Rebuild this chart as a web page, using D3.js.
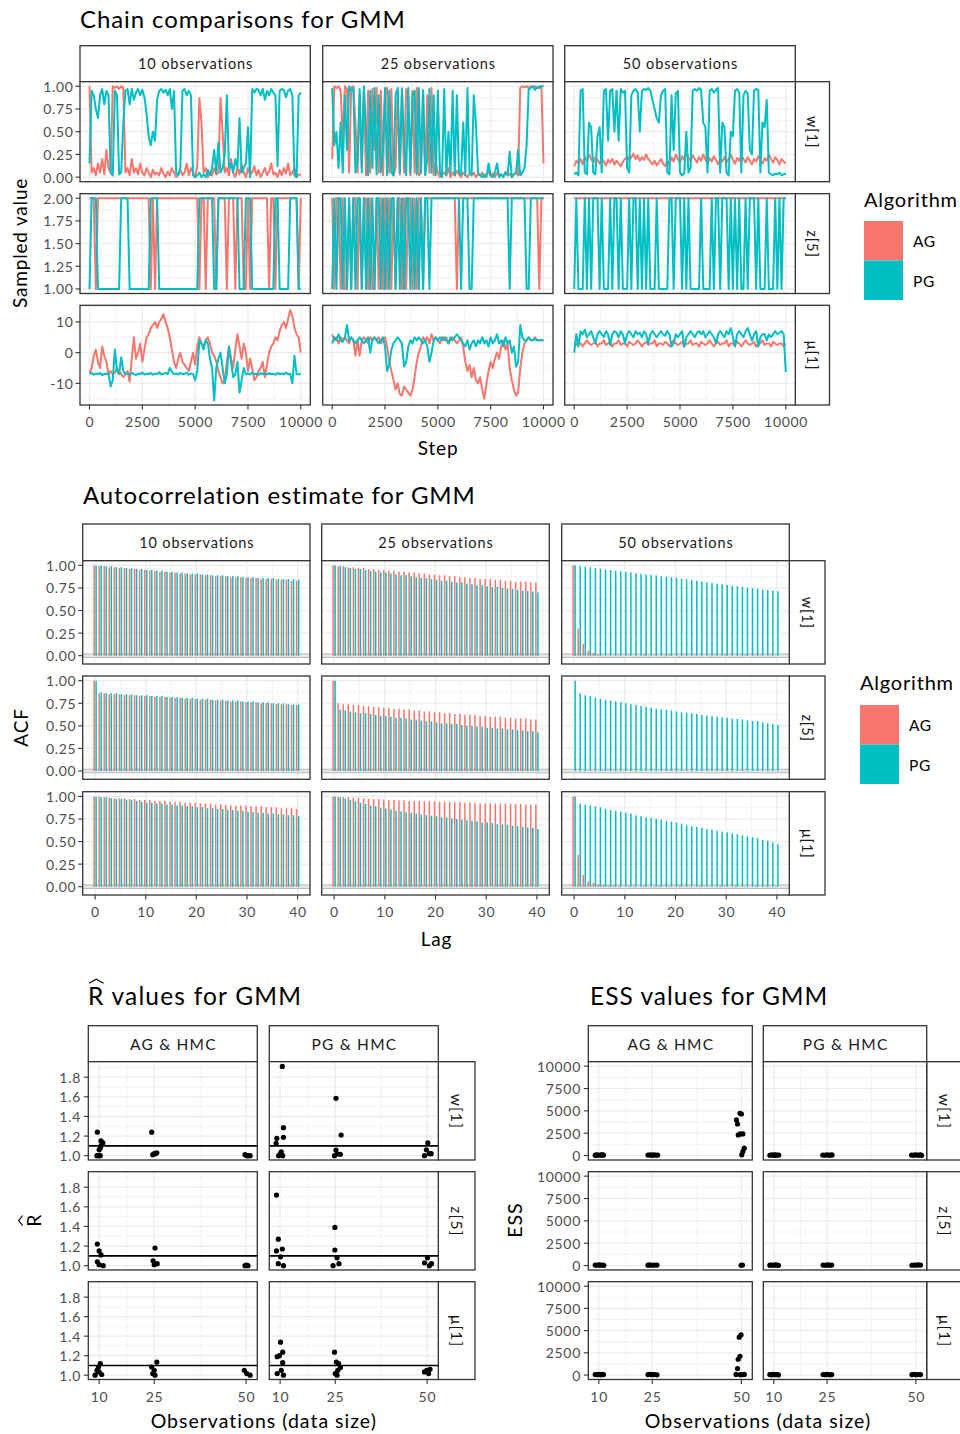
<!DOCTYPE html>
<html><head><meta charset="utf-8">
<script src="https://cdn.jsdelivr.net/npm/d3@7"></script>
<style>body{margin:0;background:#fff}svg{display:block}text{font-family:Lato,'Noto Sans',sans-serif}</style>
</head><body><svg id="c" width="960" height="1434"></svg>
<script>
// ---------------- DATA ----------------
const algos = ["AG", "PG"];
const algoColors = ["#F8766D", "#00BFC4"];
const obsLabels = ["10 observations", "25 observations", "50 observations"];
const paramLabels = ["w[1]", "z[5]", "μ[1]"];
const pairLabels = ["AG & HMC", "PG & HMC"];
const traceTotalSteps = 10000;
const traceXTicks = [0, 2500, 5000, 7500, 10000];
const lagTicks = [0, 10, 20, 30, 40];
const obsTicks = [10, 25, 50];

// trace samples, evenly spaced over 0..10000 steps
const trace_w1_10_AG = [1.0,0.05,0.1,0.02,0.15,0.05,0.2,0.03,0.3,0.1,0.05,1.0,0.98,1.0,0.97,1.0,0.98,0.05,0.1,0.02,0.2,0.05,0.1,0.03,0.15,0.05,0.02,0.1,0.05,0.0,0.08,0.03,0.05,0.02,0.1,0.04,0.0,0.06,0.02,0.1,0.05,0.0,0.03,0.08,0.02,0.05,0.15,0.02,0.1,0.05,0.0,0.12,0.87,0.6,0.05,0.1,0.0,0.05,0.02,0.1,0.03,0.05,0.87,0.5,0.05,0.1,0.02,0.2,0.05,0.0,0.1,0.03,0.15,0.05,0.0,0.1,0.03,0.05,0.12,0.02,0.08,0.0,0.05,0.1,0.02,0.06,0.15,0.03,0.05,0.0,0.08,0.02,0.1,0.04,0.15,0.02,0.05,0.1,0.0,0.03,0.02];
const trace_w1_10_PG = [0.15,0.95,0.9,0.75,0.65,0.9,0.97,0.8,0.95,0.9,0.05,0.02,0.95,0.9,0.03,0.05,0.6,0.95,0.97,0.8,0.97,0.85,0.93,0.97,0.9,0.96,0.88,0.7,0.45,0.35,0.5,0.4,0.85,0.95,0.97,0.93,0.96,0.9,0.97,0.75,0.95,0.05,0.02,0.1,0.95,0.97,0.9,0.95,0.9,0.02,0.0,0.02,0.05,0.0,0.03,0.0,0.08,0.02,0.1,0.3,0.05,0.38,0.05,0.1,0.25,0.9,0.1,0.15,0.05,0.2,0.1,0.65,0.05,0.1,0.15,0.55,0.0,0.97,0.93,0.97,0.96,0.9,0.97,0.85,0.95,0.9,0.97,0.93,0.9,0.12,0.95,0.97,0.96,0.88,0.95,0.97,0.9,0.02,0.0,0.9,0.93];
const trace_w1_25_AG = [0.2,1.0,0.98,1.0,0.95,0.4,1.0,0.97,0.05,0.99,1.0,0.6,0.05,0.9,0.1,0.98,0.02,0.95,0.05,0.97,0.3,0.98,0.05,0.95,0.02,0.9,0.98,0.05,0.97,0.02,0.1,0.95,0.03,0.98,0.05,0.97,0.9,0.02,0.95,0.05,0.98,0.02,0.05,0.96,0.03,0.9,0.05,0.98,0.02,0.15,0.05,0.0,0.03,0.05,0.02,0.1,0.0,0.05,0.02,0.07,0.03,0.0,0.05,0.02,0.0,0.04,0.02,0.05,0.0,0.03,0.02,0.05,0.0,0.03,0.06,0.01,0.04,0.0,0.05,0.02,0.03,0.0,0.06,0.02,0.04,0.0,0.03,0.05,0.02,0.98,1.0,0.99,1.0,0.98,1.0,0.99,1.0,0.98,1.0,1.0,0.15];
const trace_w1_25_PG = [0.98,0.35,0.5,0.1,0.6,0.05,0.9,0.3,1.0,0.95,0.98,0.05,0.2,0.97,0.05,1.0,0.5,0.02,0.95,0.1,0.98,0.03,0.9,0.05,0.3,0.98,0.02,0.95,0.05,0.02,0.9,0.98,0.05,0.97,0.4,0.02,0.98,0.05,0.9,0.95,0.03,0.98,0.05,0.95,0.02,0.2,0.97,0.05,0.9,0.02,0.95,0.05,0.0,0.97,0.02,0.5,0.05,0.95,0.02,0.9,0.05,0.03,0.6,0.02,0.98,0.05,0.02,0.9,0.6,0.05,0.02,0.0,0.03,0.0,0.15,0.02,0.0,0.05,0.15,0.0,0.03,0.0,0.05,0.02,0.28,0.0,0.03,0.05,0.3,0.02,0.05,0.1,0.35,0.97,0.98,1.0,0.96,0.99,0.98,1.0,1.0];
const trace_w1_50_AG = [0.12,0.18,0.15,0.2,0.14,0.22,0.18,0.25,0.2,0.16,0.22,0.19,0.15,0.21,0.17,0.13,0.19,0.16,0.2,0.14,0.18,0.15,0.12,0.17,0.2,0.23,0.19,0.22,0.26,0.2,0.24,0.18,0.22,0.19,0.25,0.2,0.17,0.14,0.18,0.13,0.16,0.2,0.15,0.12,0.18,0.14,0.22,0.17,0.25,0.2,0.16,0.23,0.19,0.27,0.21,0.18,0.24,0.2,0.16,0.22,0.18,0.25,0.2,0.15,0.21,0.17,0.23,0.19,0.14,0.2,0.17,0.22,0.16,0.2,0.25,0.19,0.15,0.21,0.18,0.24,0.2,0.16,0.22,0.18,0.14,0.2,0.17,0.23,0.19,0.15,0.21,0.18,0.25,0.2,0.16,0.22,0.19,0.14,0.2,0.17,0.15];
const trace_w1_50_PG = [0.03,0.05,0.02,0.95,0.97,0.05,0.03,0.6,0.55,0.05,0.03,0.45,0.55,0.05,0.95,0.97,0.4,0.95,0.97,0.5,0.95,0.4,0.97,0.93,0.95,0.1,0.05,0.9,0.95,0.97,0.93,0.5,0.95,0.97,0.96,0.98,0.95,0.85,0.75,0.65,0.6,0.9,0.95,0.97,0.05,0.03,0.9,0.3,0.92,0.95,0.05,0.02,0.04,0.5,0.05,0.1,0.95,0.97,0.95,0.98,0.96,0.6,0.55,0.05,0.95,0.97,0.93,0.96,0.98,0.05,0.6,0.55,0.05,0.02,0.5,0.45,0.95,0.97,0.93,0.05,0.9,0.95,0.92,0.3,0.25,0.95,0.97,0.96,0.05,0.6,0.55,0.85,0.05,0.03,0.02,0.04,0.03,0.05,0.02,0.03,0.04];

const trace_z5_10_AG = [2,2,2,1,2,2,2,2,2,2, 2,2,2,2,2,2,2,2,2,2, 2,2,2,2,2,2,2,2,2,1, 2,1,2,2,2,2,2,2,2,2, 2,2,2,2,2,2,2,2,2,2, 2,2,1,2,2,1,2,2,2,2, 1,2,2,2,2,1,2,2,2,1, 2,2,2,1,1,2,1,2,2,2, 2,2,2,2,2,1,2,2,1,2, 2,2,2,2,2,2,2,2,2,1,2];
const trace_z5_10_PG = [1,2,2,2,1,1,1,1,1,1, 1,1,1,1,1,2,2,2,2,1, 1,1,1,1,1,1,1,1,1,2, 2,2,2,1,1,1,1,1,1,1, 1,1,1,1,1,1,1,1,1,1, 1,1,2,2,2,2,2,2,2,1, 1,2,2,2,2,2,2,2,2,2, 2,1,1,1,2,2,2,1,1,1, 1,1,1,1,1,1,1,1,2,2, 1,1,1,1,1,2,2,2,2,1,1];
const trace_z5_25_AG = [2,1,2,2,1,2,1,1,2,1, 2,2,1,2,1,2,2,1,2,1, 1,2,1,2,1,2,1,2,1,2, 1,2,2,1,2,1,2,2,1,2, 1,2,2,1,2,2,2,2,2,2, 2,2,2,2,2,2,2,2,2,1, 2,2,2,2,2,2,2,2,2,2, 2,2,2,2,2,2,2,2,2,2, 2,2,2,2,2,2,2,2,2,2, 2,2,2,2,2,2,2,2,1,2,2];
const trace_z5_25_PG = [1,2,1,2,2,1,2,1,2,1, 2,1,2,2,1,2,1,2,1,2, 1,2,2,1,2,1,2,1,2,2, 1,2,1,2,1,2,2,1,2,1, 2,1,2,1,2,2,1,2,2,2, 2,2,2,2,2,2,2,2,2,2, 2,1,2,2,2,1,1,2,2,2, 2,2,2,2,2,2,2,2,2,2, 2,2,2,2,1,2,2,2,2,2, 2,2,1,1,2,2,2,2,2,2,2];
const trace_z5_50_AG = [2,2,2,2,2,2,2,2,2,2, 2,2,2,2,2,2,2,2,2,2, 2,2,2,2,2,2,2,2,2,2, 2,2,2,2,2,2,2,2,2,2, 2,2,2,2,2,2,2,2,2,2, 2,2,2,2,2,2,2,2,2,2, 2,2,2,2,2,2,2,2,2,2, 2,2,2,2,2,2,2,2,2,2, 2,2,2,2,2,2,2,2,2,2, 2,2,2,2,2,2,2,2,2,2,2];
const trace_z5_50_PG = [1,2,1,1,1,2,1,2,1,2, 2,2,1,2,1,1,1,2,1,2, 2,1,2,1,1,1,2,1,2,2, 1,2,1,2,1,2,1,1,1,2, 1,1,1,1,1,2,2,1,2,2, 2,1,2,1,2,1,1,1,1,1, 2,1,1,1,1,2,1,2,2,1, 2,2,2,1,2,1,2,1,2,1, 1,2,1,2,2,2,1,2,1,1, 1,2,1,1,1,2,1,2,1,2,2];

const trace_mu1_10_AG = [-6.5,-5,-1,1,-3,-5,2,-1,-3,-7,-6,-7,-6.5,-5,-6,-7,-8,-7,-6,-9.5,-2,5,-2,0,3,-3,1,5,6,8,9,10,8,10,11,12.5,10,8,5,1,-3,-5,-2,0,-3,-4,-5,-6,-3,0,-4,2,5,3,2,4,5,3,0,-1,-3,-6,-8,-10,-9,-3,2,-2,-5,1,6,2,-2,3,0,-6,-2,-5,-9,-8,-6,-5,-3,-8,-4,0,2,3,5,4,7,9,10,8,11,13.9,12,8,6,5,0];
const trace_mu1_10_PG = [-7,-6.5,-7.2,-6.8,-7,-6.6,-7.3,-6.9,-7,-6.7,-11,-9,1,-6,-7,-1.5,-6,-7,-6.8,-7.2,-6.6,-7,-7.3,-6.8,-7,-6.5,-7.1,-6.9,-7,-6.6,-7.2,-6.8,-7,-6.4,-7.1,-6.9,-6.6,-7,-5,-6.2,-7,-6.8,-7.1,-6.6,-7,-6.9,-6.5,-7.2,-6.8,-7,-9,-6,4,3,1,4,3,-2,-5,-15.6,-5,-2,0,-5,-10,-7,2,-3,-8,-7,-3,-13,-9,-5,-7,-6.8,-7.1,-6.5,-7,-6.9,-7.2,-6.6,-7,-6.8,-7.1,-6.7,-7,-6.9,-7.2,-6.6,-7,-6.8,-7.1,-6.5,-7,-6.9,-10,-1,-7,-7,-7];
const trace_mu1_25_AG = [6,4,5,3,5,4,5,4,3,5,4,-1,4,-1,4,5,4,3,5,4,5,4,5,3,4,5,2,-3,-6,-9,-12,-10,-13.5,-14,-11,-12,-13,-14,-12,-8,-3,0,2,5,4,5,3,6,4,5,4,3,5,4,5,3,4,5,4,3,4,5,2,-3,-6,-4,-8,-5,-9,-10,-8,-12,-15,-10,-6,-3,-5,-2,0,-2,2,4,1,3,-5,-9,-12,-14,-13,-5,0,3,4,5,4,4,5,4,4,4,4];
const trace_mu1_25_PG = [3,5,4,6,4,3.5,5,9,4,5,4,3,4,5,4,3,4,5,0,4,5,4,3,4,5,2,-6,-4,1,3,4,5,4,3,-4.5,-3,2,4,3,5,4,5,4,3,4,2,-3,0,4,5,4,5,4,5,4,3,5,4,5,6,5,4,3,2,4,1,3,4,2,4,3,5,3,4,2,5,3,4,6,3,4,2,5,3,4,0,2,-4.5,-3,9,5,4,4,5,4,4,4.5,4,4,4,4];
const trace_mu1_50_AG = [3,2.5,3.5,3,2,3,4,3,2.5,3,3.5,2,3,3,4,2.5,3,3.5,2,3,3,4,2.5,3,3,2,3.5,3,2.5,3,4,3,2,3,3.5,2.5,3,3,4,2,3,3,2.5,3.5,3,2,3,4,3,2.5,3,3.5,2,3,3,4,2.5,3,3,2,3.5,3,2.5,3,4,3,2,3,3.5,2.5,3,3,4,2,3,3,2.5,3.5,3,2,3,4,3,2.5,3,3.5,2,3,3,4,2.5,3,3,2,3.5,3,2.5,3,3,2,3];
const trace_mu1_50_PG = [0,6,2,7,6,7.5,5,6,7,5,3,6,7,6,5,7,6,2.5,6,7,6.5,5,7,6,3,6,7,6,5,7,6,6.5,5,7,6,3,6,7,6,5,6,7,6,5.5,7,6,2,3,6,5,6,7,2,5,6,7,6,5,6.5,7,6,7,5,6,7,6,5,3,6,7,6,5,7,6,8,5,2,6,7,6,5,7,8,6,4,6,7,2,5,6,6,4,6,5,6,7,6,6.5,7,6,-6.3];

// autocorrelation, lags 0..40
const acf_w1_10_AG = [1.00,0.99,0.99,0.98,0.98,0.97,0.97,0.96,0.96,0.95,0.95,0.94,0.94,0.93,0.93,0.92,0.92,0.91,0.91,0.90,0.90,0.90,0.89,0.89,0.88,0.88,0.88,0.87,0.87,0.87,0.86,0.86,0.86,0.85,0.85,0.85,0.84,0.84,0.84,0.83,0.83];
const acf_w1_10_PG = [1.00,1.00,0.99,0.99,0.98,0.98,0.97,0.97,0.96,0.96,0.95,0.95,0.94,0.94,0.93,0.93,0.92,0.92,0.91,0.91,0.91,0.90,0.90,0.89,0.89,0.89,0.88,0.88,0.88,0.87,0.87,0.87,0.86,0.86,0.86,0.86,0.85,0.85,0.85,0.85,0.84];
const acf_w1_25_AG = [1.00,0.99,0.99,0.98,0.98,0.97,0.97,0.96,0.96,0.95,0.95,0.94,0.94,0.93,0.93,0.92,0.92,0.91,0.91,0.90,0.90,0.89,0.89,0.88,0.88,0.87,0.87,0.86,0.86,0.85,0.85,0.85,0.84,0.84,0.83,0.83,0.82,0.82,0.82,0.81,0.81];
const acf_w1_25_PG = [1.00,0.99,0.98,0.97,0.96,0.96,0.95,0.94,0.93,0.92,0.92,0.91,0.90,0.89,0.89,0.88,0.87,0.86,0.86,0.85,0.84,0.83,0.83,0.82,0.81,0.81,0.80,0.79,0.78,0.78,0.77,0.76,0.76,0.75,0.74,0.74,0.73,0.72,0.72,0.71,0.70];
const acf_w1_50_AG = [1.00,0.30,0.13,0.055,0.03,0.01,0.005,0.0,-0.005,0.005,0.0,0.005,-0.005,0.0,0.01,-0.01,0.005,0.0,-0.008,0.01,0.0,-0.01,0.005,0.0,0.005,-0.005,0.0,-0.01,0.005,0.0,0.01,-0.005,0.0,0.005,0.01,0.0,-0.005,0.005,0.0,-0.01,0.005];
const acf_w1_50_PG = [1.00,0.99,0.985,0.98,0.97,0.965,0.955,0.95,0.94,0.935,0.927,0.92,0.913,0.907,0.9,0.893,0.887,0.88,0.874,0.868,0.862,0.855,0.846,0.838,0.83,0.822,0.814,0.806,0.798,0.79,0.782,0.775,0.768,0.762,0.755,0.748,0.741,0.734,0.727,0.72,0.714];
const acf_z5_10_AG = [1.00,0.86,0.86,0.85,0.85,0.85,0.84,0.84,0.84,0.83,0.83,0.83,0.82,0.82,0.82,0.81,0.81,0.81,0.80,0.80,0.80,0.79,0.79,0.79,0.78,0.78,0.78,0.77,0.77,0.77,0.76,0.76,0.76,0.75,0.75,0.75,0.74,0.74,0.74,0.73,0.73];
const acf_z5_10_PG = [1.00,0.87,0.86,0.86,0.86,0.85,0.85,0.85,0.84,0.84,0.84,0.83,0.83,0.83,0.82,0.82,0.82,0.81,0.81,0.81,0.80,0.80,0.80,0.79,0.79,0.79,0.78,0.78,0.78,0.77,0.77,0.77,0.76,0.76,0.76,0.75,0.75,0.75,0.74,0.74,0.74];
const acf_z5_25_AG = [1.00,0.75,0.74,0.74,0.73,0.73,0.72,0.72,0.71,0.71,0.70,0.70,0.69,0.69,0.68,0.68,0.67,0.67,0.66,0.66,0.65,0.65,0.64,0.64,0.63,0.63,0.62,0.62,0.62,0.61,0.61,0.60,0.60,0.60,0.59,0.59,0.58,0.58,0.58,0.57,0.57];
const acf_z5_25_PG = [1.00,0.68,0.67,0.66,0.65,0.64,0.64,0.63,0.62,0.61,0.61,0.60,0.59,0.59,0.58,0.57,0.57,0.56,0.55,0.55,0.54,0.53,0.53,0.52,0.52,0.51,0.50,0.50,0.49,0.49,0.48,0.48,0.47,0.47,0.46,0.46,0.45,0.45,0.44,0.44,0.43];
const acf_z5_50_AG = [];
const acf_z5_50_PG = [1.00,0.86,0.84,0.83,0.81,0.80,0.79,0.78,0.77,0.76,0.75,0.74,0.73,0.72,0.71,0.70,0.69,0.685,0.68,0.67,0.66,0.65,0.645,0.64,0.63,0.62,0.615,0.61,0.60,0.595,0.59,0.58,0.575,0.57,0.56,0.555,0.55,0.54,0.53,0.52,0.51];
const acf_mu1_10_AG = [1.00,1.00,0.99,0.99,0.98,0.98,0.98,0.97,0.97,0.96,0.96,0.96,0.95,0.95,0.95,0.94,0.94,0.94,0.93,0.93,0.93,0.92,0.92,0.92,0.91,0.91,0.91,0.90,0.90,0.90,0.90,0.89,0.89,0.89,0.88,0.88,0.88,0.87,0.87,0.87,0.86];
const acf_mu1_10_PG = [1.00,0.99,0.99,0.98,0.97,0.97,0.96,0.96,0.95,0.94,0.93,0.93,0.92,0.92,0.91,0.91,0.90,0.90,0.89,0.89,0.88,0.88,0.87,0.87,0.86,0.86,0.85,0.85,0.84,0.84,0.83,0.83,0.82,0.82,0.81,0.81,0.80,0.80,0.79,0.79,0.78];
const acf_mu1_25_AG = [1.00,0.995,0.99,0.99,0.985,0.98,0.98,0.975,0.97,0.97,0.965,0.96,0.96,0.955,0.955,0.95,0.95,0.95,0.945,0.945,0.945,0.94,0.94,0.94,0.935,0.935,0.93,0.93,0.93,0.925,0.925,0.925,0.92,0.92,0.92,0.915,0.915,0.915,0.91,0.91,0.91];
const acf_mu1_25_PG = [1.00,0.99,0.975,0.96,0.945,0.93,0.915,0.90,0.89,0.875,0.865,0.855,0.845,0.835,0.825,0.82,0.81,0.80,0.795,0.785,0.78,0.77,0.765,0.755,0.75,0.745,0.735,0.73,0.725,0.715,0.71,0.705,0.695,0.69,0.685,0.675,0.67,0.665,0.655,0.65,0.64];
const acf_mu1_50_AG = [1.00,0.35,0.13,0.06,0.04,0.03,0.02,0.01,0.02,0.01,0.0,0.01,0.005,0.0,0.01,0.0,0.005,0.01,0.0,0.005,0.0,0.01,0.0,0.005,0.0,0.01,0.005,0.0,0.0,0.01,0.005,0.0,0.01,0.0,0.005,0.0,0.01,0.0,0.005,0.0,0.01];
const acf_mu1_50_PG = [1.00,0.92,0.91,0.90,0.89,0.88,0.86,0.85,0.84,0.83,0.82,0.81,0.79,0.78,0.77,0.76,0.75,0.74,0.73,0.72,0.71,0.70,0.68,0.67,0.66,0.65,0.64,0.63,0.62,0.61,0.60,0.59,0.58,0.57,0.56,0.55,0.54,0.52,0.51,0.49,0.47];
const acfBand = 0.0196;

// R-hat: [observations (jittered), R-hat]
const rhat_w1_AG = [[9.5,1.24],[10.5,1.15],[11.0,1.13],[10.5,1.10],[10.3,1.075],[10.0,1.06],[9.4,1.0],[10.3,1.0],[9.8,1.0],[24.3,1.24],[25.0,1.02],[25.7,1.03],[24.6,1.01],[25.3,1.02],[49.7,1.01],[50.6,1.0],[51.1,1.0],[50.2,1.0]];
const rhat_w1_PG = [[10.6,1.91],[10.9,1.286],[10.9,1.187],[9.1,1.177],[8.9,1.126],[10.3,1.04],[10.1,1.02],[10.7,1.0],[9.6,1.0],[25.2,1.585],[26.6,1.21],[25.2,1.058],[25.5,1.017],[26.4,1.014],[24.8,1.0],[50.2,1.13],[49.8,1.06],[50.6,1.02],[49.3,1.0],[51.1,1.02]];
const rhat_z5_AG = [[9.5,1.22],[10.0,1.15],[10.5,1.11],[9.5,1.04],[10.0,1.01],[11.1,1.0],[25.2,1.18],[24.7,1.05],[25.8,1.02],[25.0,1.01],[49.7,1.0],[50.5,1.0],[50.1,1.005]];
const rhat_z5_PG = [[9.0,1.72],[9.5,1.27],[10.6,1.17],[9.0,1.15],[10.1,1.09],[9.5,1.02],[10.9,1.0],[24.9,1.39],[24.9,1.16],[25.5,1.08],[26.0,1.02],[24.4,1.0],[50.1,1.08],[49.3,1.03],[50.6,1.0],[51.2,1.02]];
const rhat_mu1_AG = [[10.3,1.118],[9.8,1.084],[9.4,1.05],[10.0,1.034],[8.9,1.0],[10.7,1.007],[25.7,1.135],[24.3,1.084],[25.0,1.05],[24.6,1.017],[25.2,1.0],[49.5,1.05],[50.2,1.017],[51.1,1.0]];
const rhat_mu1_PG = [[10.1,1.338],[10.7,1.236],[9.2,1.19],[9.8,1.2],[10.7,1.128],[10.3,1.05],[9.2,1.017],[10.9,1.0],[24.8,1.236],[25.3,1.135],[25.9,1.118],[26.4,1.078],[25.7,1.05],[25.0,1.017],[25.5,1.0],[49.9,1.05],[50.8,1.06],[50.4,1.017],[49.3,1.034]];
const rhatThreshold = 1.1;

// ESS: [observations (jittered), ESS]
const ess_w1_AG = [[9.0,40],[9.5,80],[10.0,60],[10.5,30],[11.0,90],[11.3,50],[9.3,20],[10.8,70],[23.8,50],[24.4,90],[25.0,40],[25.6,70],[26.2,30],[26.5,60],[24.8,20],[49.6,4720],[50.0,4650],[48.6,3980],[48.9,3530],[49.6,2420],[50.4,2420],[49.1,2300],[50.8,820],[50.4,450],[50.1,75]];
const ess_w1_PG = [[8.9,30],[9.4,70],[9.9,50],[10.4,90],[10.9,40],[11.4,60],[10.2,20],[23.8,60],[24.3,30],[24.9,80],[25.4,50],[25.9,40],[26.4,70],[48.8,50],[49.3,30],[49.8,90],[50.3,60],[50.8,40],[51.3,70],[51.6,20]];
const ess_z5_AG = [[9.0,50],[9.5,30],[10.0,80],[10.5,40],[11.0,60],[11.4,20],[23.8,40],[24.4,70],[25.0,30],[25.6,60],[26.3,50],[49.9,30],[50.3,60]];
const ess_z5_PG = [[8.9,40],[9.4,60],[9.9,30],[10.4,80],[10.9,50],[11.3,20],[23.9,50],[24.5,30],[25.1,70],[25.7,40],[26.3,60],[48.9,30],[49.5,60],[50.1,40],[50.7,80],[51.3,50]];
const ess_mu1_AG = [[9.0,60],[9.5,40],[10.0,90],[10.5,30],[11.0,70],[11.3,50],[23.8,50],[24.4,80],[25.0,40],[25.6,60],[26.3,30],[49.4,4260],[49.9,4520],[49.1,1780],[49.6,2110],[48.9,740],[48.5,70],[50.8,70],[49.7,40],[50.3,50]];
const ess_mu1_PG = [[8.9,50],[9.4,30],[9.9,70],[10.4,40],[10.9,60],[11.3,20],[23.9,60],[24.5,40],[25.1,80],[25.7,30],[26.3,50],[48.9,40],[49.5,70],[50.1,30],[50.7,60],[51.3,50]];

// ---------------- TABLES ----------------
const traceTable = [
  [[trace_w1_10_AG, trace_w1_10_PG], [trace_w1_25_AG, trace_w1_25_PG], [trace_w1_50_AG, trace_w1_50_PG]],
  [[trace_z5_10_AG, trace_z5_10_PG], [trace_z5_25_AG, trace_z5_25_PG], [trace_z5_50_AG, trace_z5_50_PG]],
  [[trace_mu1_10_AG, trace_mu1_10_PG], [trace_mu1_25_AG, trace_mu1_25_PG], [trace_mu1_50_AG, trace_mu1_50_PG]]
];
const acfTable = [
  [[acf_w1_10_AG, acf_w1_10_PG], [acf_w1_25_AG, acf_w1_25_PG], [acf_w1_50_AG, acf_w1_50_PG]],
  [[acf_z5_10_AG, acf_z5_10_PG], [acf_z5_25_AG, acf_z5_25_PG], [acf_z5_50_AG, acf_z5_50_PG]],
  [[acf_mu1_10_AG, acf_mu1_10_PG], [acf_mu1_25_AG, acf_mu1_25_PG], [acf_mu1_50_AG, acf_mu1_50_PG]]
];
const rhatTable = [[rhat_w1_AG, rhat_w1_PG], [rhat_z5_AG, rhat_z5_PG], [rhat_mu1_AG, rhat_mu1_PG]];
const essTable = [[ess_w1_AG, ess_w1_PG], [ess_z5_AG, ess_z5_PG], [ess_mu1_AG, ess_mu1_PG]];

// ---------------- DRAWING ----------------
const svg = d3.select("#c");
const GRID = "#EBEBEB", BORDER = "#333333", TICKTXT = "#4D4D4D", STRIPTXT = "#1A1A1A";
let clipId = 0;
const range = (a, b, s) => d3.range(a, b + s / 2, s);

function facetGrid(o) {
  const g = svg.append("g");
  const xsList = o.cols.map(([a, b]) => d3.scaleLinear().domain(o.xDomain).range([a, b]));
  const ysList = o.rows.map(([a, b], r) => d3.scaleLinear().domain(o.yDomains[r]).range([b, a]));
  o.cols.forEach(([a, b], c) => {
    const [t0, t1] = o.stripTop;
    g.append("rect").attr("x", a).attr("y", t0).attr("width", b - a).attr("height", t1 - t0)
      .attr("fill", "#fff").attr("stroke", BORDER).attr("stroke-width", 1.3);
    g.append("text").attr("x", (a + b) / 2 + o.stripSpacing / 2).attr("y", (t0 + t1) / 2).attr("text-anchor", "middle")
      .attr("dominant-baseline", "central").attr("font-size", o.stripSize).attr("letter-spacing", o.stripSpacing)
      .attr("fill", STRIPTXT).text(o.colLabels[c]);
  });
  o.rows.forEach(([a, b], r) => {
    const [s0, s1] = o.stripRight;
    g.append("rect").attr("x", s0).attr("y", a).attr("width", s1 - s0).attr("height", b - a)
      .attr("fill", "#fff").attr("stroke", BORDER).attr("stroke-width", 1.3);
    g.append("text").attr("transform", `translate(${(s0 + s1) / 2},${(a + b) / 2 + o.stripSpacing / 2}) rotate(90)`)
      .attr("text-anchor", "middle").attr("dominant-baseline", "central").attr("font-size", o.stripSize)
      .attr("letter-spacing", o.stripSpacing).attr("fill", STRIPTXT).text(o.rowLabels[r]);
  });
  o.rows.forEach(([y0, y1], r) => o.cols.forEach(([x0, x1], c) => {
    const xs = xsList[c], ys = ysList[r];
    const pg = g.append("g");
    pg.append("rect").attr("x", x0).attr("y", y0).attr("width", x1 - x0).attr("height", y1 - y0).attr("fill", "#fff");
    const vline = (v, w) => pg.append("line").attr("x1", xs(v)).attr("x2", xs(v)).attr("y1", y0).attr("y2", y1).attr("stroke", GRID).attr("stroke-width", w);
    const hline = (v, w) => pg.append("line").attr("y1", ys(v)).attr("y2", ys(v)).attr("x1", x0).attr("x2", x1).attr("stroke", GRID).attr("stroke-width", w);
    const inX = v => xs(v) > x0 && xs(v) < x1, inY = v => ys(v) > y0 && ys(v) < y1;
    o.xMinor.filter(inX).forEach(v => vline(v, 0.6));
    o.yMinor[r].filter(inY).forEach(v => hline(v, 0.6));
    o.xMajor.filter(inX).forEach(v => vline(v, 1.2));
    o.yMajor[r].filter(inY).forEach(v => hline(v, 1.2));
    const id = "clip" + (clipId++);
    pg.append("clipPath").attr("id", id).append("rect").attr("x", x0).attr("y", y0).attr("width", x1 - x0).attr("height", y1 - y0);
    const dg = pg.append("g").attr("clip-path", `url(#${id})`);
    o.draw(dg, r, c, xs, ys);
    pg.append("rect").attr("x", x0).attr("y", y0).attr("width", x1 - x0).attr("height", y1 - y0)
      .attr("fill", "none").attr("stroke", BORDER).attr("stroke-width", 1.3);
    if (c === 0) {
      o.yMajor[r].forEach(v => {
        pg.append("line").attr("x1", x0 - o.tickLen).attr("x2", x0).attr("y1", ys(v)).attr("y2", ys(v)).attr("stroke", BORDER).attr("stroke-width", 1.1);
        pg.append("text").attr("x", x0 - o.labelGap + o.tickSpacing).attr("y", ys(v)).attr("text-anchor", "end").attr("dominant-baseline", "central")
          .attr("font-size", o.tickSize).attr("letter-spacing", o.tickSpacing).attr("fill", TICKTXT).text(o.yFormat[r](v));
      });
    }
    if (r === o.rows.length - 1) {
      o.xMajor.forEach(v => {
        pg.append("line").attr("x1", xs(v)).attr("x2", xs(v)).attr("y1", y1).attr("y2", y1 + o.tickLen).attr("stroke", BORDER).attr("stroke-width", 1.1);
        pg.append("text").attr("x", xs(v) + o.tickSpacing / 2).attr("y", y1 + o.xLabelOffset).attr("text-anchor", "middle")
          .attr("font-size", o.tickSize).attr("letter-spacing", o.tickSpacing).attr("fill", TICKTXT).text(o.xFormat(v));
      });
    }
  }));
}

function legend(x, titleY, keyY) {
  const g = svg.append("g");
  g.append("text").attr("x", x).attr("y", titleY).attr("font-size", 20).attr("letter-spacing", 0.8).attr("fill", "#000").text("Algorithm");
  algos.forEach((a, i) => {
    g.append("rect").attr("x", x).attr("y", keyY + i * 39.5).attr("width", 39).attr("height", 39.5).attr("fill", algoColors[i]);
    g.append("text").attr("x", x + 49).attr("y", keyY + i * 39.5 + 20).attr("dominant-baseline", "central")
      .attr("font-size", 15.5).attr("letter-spacing", 0.6).attr("fill", "#000").text(a);
  });
}
function title(x, y, txt, size, sp) {
  return svg.append("text").attr("x", x).attr("y", y).attr("font-size", size).attr("letter-spacing", sp).attr("fill", "#000").text(txt);
}
function axisTitle(x, y, txt, rot, size, sp) {
  const t = svg.append("text").attr("font-size", size).attr("letter-spacing", sp).attr("fill", "#000").attr("text-anchor", "middle").text(txt);
  if (rot) t.attr("transform", `translate(${x},${y - sp / 2}) rotate(-90)`).attr("dominant-baseline", "central");
  else t.attr("x", x + sp / 2).attr("y", y);
  return t;
}
function hatOver(sel, textNode, charIdx, lift) {
  const x0 = textNode.getStartPositionOfChar(charIdx).x;
  const w = textNode.getSubStringLength(charIdx, 1);
  const bb = textNode.getExtentOfChar(charIdx);
  const top = bb.y + bb.height * 0.18 - lift;
  sel.append("path").attr("d", `M${x0 + 1},${top} L${x0 + w / 2},${top - 4} L${x0 + w - 1},${top}`)
    .attr("fill", "none").attr("stroke", "#000").attr("stroke-width", 1.1);
}

const lineGen = (xs, ys, n) => d3.line().x((d, i) => xs(i * traceTotalSteps / (n - 1))).y(d => ys(d));

// ---- Section 1: traces ----
title(80, 27.5, "Chain comparisons for GMM", 24, 0.9);
facetGrid({
  cols: [[80, 310.3], [322.7, 553], [564.7, 795.3]],
  rows: [[81.7, 181.7], [193.7, 293.5], [305.3, 405]],
  colLabels: obsLabels, rowLabels: paramLabels,
  stripTop: [45.7, 81.7], stripRight: [795.3, 829.5], stripSize: 14.5, stripSpacing: 0.9,
  xDomain: [-450, 10450],
  yDomains: [[-0.05, 1.05], [0.95, 2.05], [-17.05, 15.42]],
  xMajor: traceXTicks, xMinor: [1250, 3750, 6250, 8750],
  yMajor: [range(0, 1, 0.25), range(1, 2, 0.25), [-10, 0, 10]],
  yMinor: [range(0.125, 0.875, 0.25), range(1.125, 1.875, 0.25), [-15, -5, 5, 15]],
  yFormat: [d3.format(".2f"), d3.format(".2f"), d => String(d)],
  xFormat: d => String(d),
  tickLen: 4.5, labelGap: 7, tickSize: 14, tickSpacing: 0.7, xLabelOffset: 22,
  draw: (g, r, c, xs, ys) => {
    traceTable[r][c].forEach((vals, a) => {
      if (!vals.length) return;
      g.append("path").attr("d", lineGen(xs, ys, vals.length)(vals)).attr("fill", "none")
        .attr("stroke", algoColors[a]).attr("stroke-width", 2).attr("stroke-linejoin", "round");
    });
  }
});
axisTitle(437.7, 455, "Step", false, 19, 0.8);
axisTitle(19, 243.3, "Sampled value", true, 19, 0.8);
legend(864, 207, 221);

// ---- Section 2: ACF ----
title(83, 503.5, "Autocorrelation estimate for GMM", 24, 0.85);
facetGrid({
  cols: [[82.7, 310], [321.7, 549.3], [561.7, 789.3]],
  rows: [[560.7, 664], [676, 779.3], [791.7, 895]],
  colLabels: obsLabels, rowLabels: paramLabels,
  stripTop: [524, 560.7], stripRight: [789.3, 825], stripSize: 14.5, stripSpacing: 0.9,
  xDomain: [-2.45, 42.45],
  yDomains: [[-0.092, 1.052], [-0.092, 1.052], [-0.092, 1.052]],
  xMajor: lagTicks, xMinor: [5, 15, 25, 35],
  yMajor: [range(0, 1, 0.25), range(0, 1, 0.25), range(0, 1, 0.25)],
  yMinor: [range(0.125, 0.875, 0.25), range(0.125, 0.875, 0.25), range(0.125, 0.875, 0.25)],
  yFormat: [d3.format(".2f"), d3.format(".2f"), d3.format(".2f")],
  xFormat: d => String(d),
  tickLen: 4.5, labelGap: 7, tickSize: 14, tickSpacing: 0.7, xLabelOffset: 22,
  draw: (g, r, c, xs, ys) => {
    g.append("rect").attr("x", xs.range()[0]).attr("width", xs.range()[1] - xs.range()[0])
      .attr("y", ys(acfBand)).attr("height", ys(-acfBand) - ys(acfBand)).attr("fill", "#E6E6E6");
    [acfBand, -acfBand].forEach(v => g.append("line").attr("x1", xs.range()[0]).attr("x2", xs.range()[1])
      .attr("y1", ys(v)).attr("y2", ys(v)).attr("stroke", "#B8B8B8").attr("stroke-width", 1));
    acfTable[r][c].forEach((vals, a) => {
      const off = a === 0 ? -0.2 : 0.2;
      g.selectAll(null).data(vals).enter().append("line")
        .attr("x1", (d, i) => xs(i + off)).attr("x2", (d, i) => xs(i + off))
        .attr("y1", ys(0)).attr("y2", d => ys(d))
        .attr("stroke", algoColors[a]).attr("stroke-width", 1.5);
    });
  }
});
axisTitle(436, 946, "Lag", false, 19, 0.8);
axisTitle(20, 727.9, "ACF", true, 19, 0.8);
legend(860, 690, 705);

// ---- Section 3: R-hat ----
const rt = title(88, 1005, "R values for GMM", 24.5, 1.2);
hatOver(svg, rt.node(), 0, 3);
facetGrid({
  cols: [[88.3, 257.3], [269.3, 438.3]],
  rows: [[1061.7, 1160], [1171.7, 1270], [1281.7, 1379.5]],
  colLabels: pairLabels, rowLabels: paramLabels,
  stripTop: [1025.7, 1061.7], stripRight: [438.3, 475], stripSize: 15.5, stripSpacing: 1.2,
  xDomain: [7.05, 53.05],
  yDomains: [[0.956, 1.958], [0.956, 1.958], [0.956, 1.958]],
  xMajor: obsTicks, xMinor: [17.5, 37.5],
  yMajor: [range(1, 1.8, 0.2), range(1, 1.8, 0.2), range(1, 1.8, 0.2)],
  yMinor: [range(1.1, 1.9, 0.2), range(1.1, 1.9, 0.2), range(1.1, 1.9, 0.2)],
  yFormat: [d3.format(".1f"), d3.format(".1f"), d3.format(".1f")],
  xFormat: d => String(d),
  tickLen: 4.5, labelGap: 8, tickSize: 14, tickSpacing: 0.7, xLabelOffset: 22.5,
  draw: (g, r, c, xs, ys) => {
    g.append("line").attr("x1", xs.range()[0]).attr("x2", xs.range()[1]).attr("y1", ys(rhatThreshold)).attr("y2", ys(rhatThreshold))
      .attr("stroke", "#000").attr("stroke-width", 1.6);
    g.selectAll(null).data(rhatTable[r][c]).enter().append("circle")
      .attr("cx", d => xs(d[0])).attr("cy", d => ys(d[1])).attr("r", 2.6).attr("fill", "#000");
  }
});
axisTitle(263.3, 1428, "Observations (data size)", false, 19.5, 1.0);
const ry = svg.append("g").attr("transform", "translate(33,1220.6) rotate(-90)");
const ryt = ry.append("text").attr("x", 0).attr("y", 0).attr("text-anchor", "middle").attr("dominant-baseline", "central").attr("font-size", 19.5).text("R");
hatOver(ry, ryt.node(), 0, 3);

// ---- Section 3b: ESS ----
title(590, 1005, "ESS values for GMM", 24.5, 1.0);
facetGrid({
  cols: [[588.3, 752.3], [763.3, 926.7]],
  rows: [[1061.7, 1160], [1171.7, 1270], [1281.7, 1379.5]],
  colLabels: pairLabels, rowLabels: paramLabels,
  stripTop: [1025.7, 1061.7], stripRight: [926.7, 963], stripSize: 15.5, stripSpacing: 1.2,
  xDomain: [7.05, 53.05],
  yDomains: [[-500, 10500], [-500, 10500], [-500, 10500]],
  xMajor: obsTicks, xMinor: [17.5, 37.5],
  yMajor: [range(0, 10000, 2500), range(0, 10000, 2500), range(0, 10000, 2500)],
  yMinor: [range(1250, 8750, 2500), range(1250, 8750, 2500), range(1250, 8750, 2500)],
  yFormat: [d => String(d), d => String(d), d => String(d)],
  xFormat: d => String(d),
  tickLen: 4.5, labelGap: 8, tickSize: 14, tickSpacing: 0.7, xLabelOffset: 22.5,
  draw: (g, r, c, xs, ys) => {
    g.selectAll(null).data(essTable[r][c]).enter().append("circle")
      .attr("cx", d => xs(d[0])).attr("cy", d => ys(d[1])).attr("r", 2.6).attr("fill", "#000");
  }
});
axisTitle(757.5, 1428, "Observations (data size)", false, 19.5, 1.0);
axisTitle(514, 1220.6, "ESS", true, 19.5, 1.0);
</script></body></html>
